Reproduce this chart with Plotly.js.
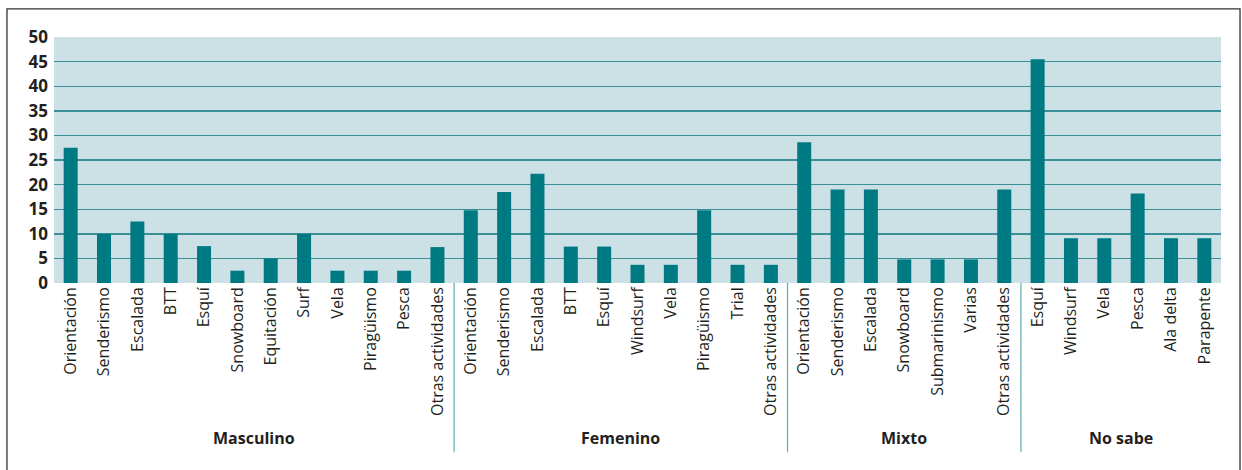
<!DOCTYPE html>
<html>
<head>
<meta charset="utf-8">
<script src="https://cdn.plot.ly/plotly-3.0.1.min.js"></script>
<style>
html,body{margin:0;padding:0;background:#fff;}
#chart{width:1242px;height:470px;}
</style>
</head>
<body>
<div id="chart"></div>
<script>
// ---- data ----
const groups = ["Masculino", "Femenino", "Mixto", "No sabe"];
const masculinoCats = ["Orientación","Senderismo","Escalada","BTT","Esquí","Snowboard","Equitación","Surf","Vela","Piragüismo","Pesca","Otras actividades"];
const masculinoVals = [27.5, 10, 12.5, 10, 7.5, 2.5, 5, 10, 2.5, 2.5, 2.5, 7.3];
const femeninoCats = ["Orientación","Senderismo","Escalada","BTT","Esquí","Windsurf","Vela","Piragüismo","Trial","Otras actividades"];
const femeninoVals = [14.8, 18.5, 22.2, 7.4, 7.4, 3.7, 3.7, 14.8, 3.7, 3.7];
const mixtoCats = ["Orientación","Senderismo","Escalada","Snowboard","Submarinismo","Varias","Otras actividades"];
const mixtoVals = [28.6, 19.0, 19.0, 4.8, 4.8, 4.8, 19.0];
const noSabeCats = ["Esquí","Windsurf","Vela","Pesca","Ala delta","Parapente"];
const noSabeVals = [45.5, 9.1, 9.1, 18.2, 9.1, 9.1];
const yTicks = [0, 5, 10, 15, 20, 25, 30, 35, 40, 45, 50];
const yGrid = [5, 10, 15, 20, 25, 30, 35, 40, 45];

// ---- build ----
const groupCats = [masculinoCats, femeninoCats, mixtoCats, noSabeCats];
const groupVals = [masculinoVals, femeninoVals, mixtoVals, noSabeVals];
const labels = [].concat(...groupCats);
const values = [].concat(...groupVals);
const xs = labels.map((_, i) => i);

const annotations = [];
const shapes = [];
let start = 0;
groupCats.forEach((cats, gi) => {
  const end = start + cats.length - 1;
  annotations.push({
    x: (start + end) / 2, xref: 'x', y: -0.63, yref: 'paper',
    text: groups[gi], showarrow: false, yanchor: 'middle',
    font: {family: 'Open Sans', size: 16, color: '#231f20', weight: 'bold'}
  });
  if (gi < groupCats.length - 1) {
    shapes.push({
      type: 'line', xref: 'x', yref: 'paper',
      x0: end + 0.5, x1: end + 0.5, y0: 0, y1: -0.688,
      line: {color: '#5aaeb2', width: 1.2}
    });
  }
  start = end + 1;
});
// outer frame
shapes.push({
  type: 'rect', xref: 'paper', yref: 'paper',
  x0: -0.0403, x1: 1.0163, y0: -0.9, y1: 1.114,
  line: {color: '#333333', width: 1.3}, fillcolor: 'rgba(0,0,0,0)'
});

const trace = {
  type: 'bar', x: xs, y: values,
  marker: {color: '#007a82'}, width: 0.42,
  hoverinfo: 'y'
};
// invisible helper trace carrying the tick-label axis
const labelTrace = {
  type: 'scatter', x: [0], y: [0], yaxis: 'y2', mode: 'markers',
  marker: {opacity: 0}, hoverinfo: 'skip'
};

const layout = {
  width: 1242, height: 470,
  margin: {l: 54, r: 21, t: 37, b: 187},
  paper_bgcolor: '#ffffff',
  plot_bgcolor: '#cce1e6',
  showlegend: false,
  xaxis: {
    range: [-0.5, labels.length - 0.5],
    tickmode: 'array', tickvals: xs, ticktext: labels,
    tickangle: -90, showgrid: false, zeroline: false, showline: false,
    ticks: '', ticklen: 0,
    tickfont: {family: 'Open Sans', size: 16, color: '#231f20'},
    fixedrange: true
  },
  yaxis: {
    range: [0, 50], tickmode: 'array', tickvals: yGrid,
    showgrid: true, gridcolor: '#3a9096', gridwidth: 1.4,
    zeroline: false, showline: false, ticks: '', showticklabels: false,
    fixedrange: true
  },
  yaxis2: {
    range: [0, 50], tickmode: 'array', tickvals: yTicks,
    overlaying: 'y', side: 'left', showgrid: false,
    zeroline: false, showline: false, ticks: '',
    ticklabelstandoff: 5,
    tickfont: {family: 'Open Sans', size: 17, color: '#231f20', weight: 'bold'},
    fixedrange: true
  },
  annotations: annotations,
  shapes: shapes
};

Plotly.newPlot('chart', [trace, labelTrace], layout, {displayModeBar: false, staticPlot: true});
</script>
</body>
</html>
